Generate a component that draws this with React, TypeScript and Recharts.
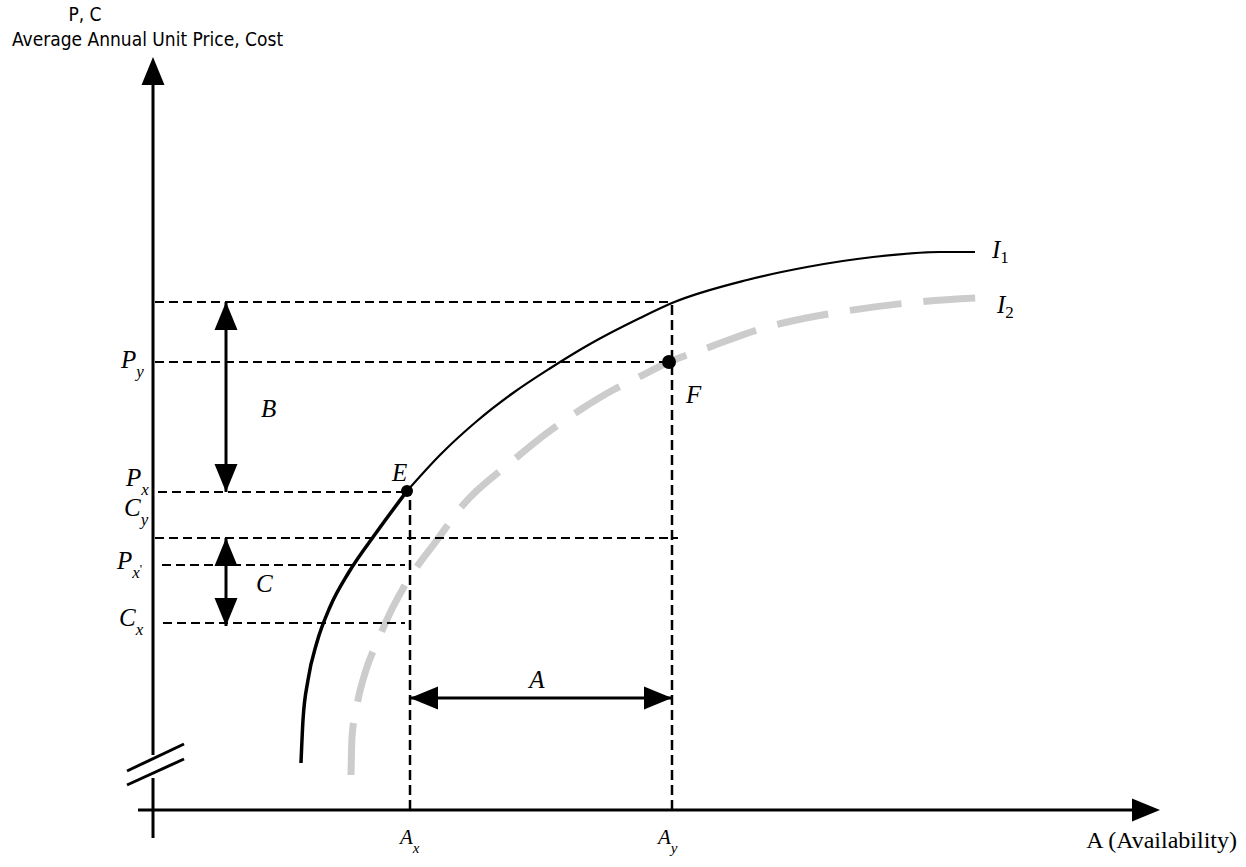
import { ComposedChart, Line, ReferenceLine, Scatter, XAxis, YAxis } from 'recharts';

// availability (a) vs average annual unit price / cost (v), arbitrary units
const A_X = 25.7;
const A_Y = 51.9;
const P_Y = 44.8;
const P_X = 31.8;
const C_Y = 27.2;
const P_XP = 24.5;
const C_X = 18.7;
const I1_AT_AY = 50.8;
const AXIS_END_A = 100.7;
const AXIS_END_V = 75.3;

const POINT_E = { a: 25.4, v: 31.9 };
const POINT_F = { a: 51.6, v: 44.8 };

// I1, lower (heavier) part up to E, then the rest
const I1_LOWER = [
  { a: 14.8, v: 4.7 },
  { a: 15.0, v: 9.0 },
  { a: 15.5, v: 13.0 },
  { a: 16.4, v: 16.8 },
  { a: 17.7, v: 20.3 },
  { a: 19.6, v: 23.8 },
  { a: 22.3, v: 27.7 },
  { a: 25.4, v: 31.9 },
];
const I1_UPPER = [
  { a: 25.4, v: 31.9 },
  { a: 28.7, v: 35.5 },
  { a: 32.4, v: 38.9 },
  { a: 36.0, v: 41.7 },
  { a: 39.6, v: 44.1 },
  { a: 43.7, v: 46.6 },
  { a: 48.7, v: 49.2 },
  { a: 51.9, v: 50.7 },
  { a: 59.4, v: 53.0 },
  { a: 65.4, v: 54.3 },
  { a: 72.0, v: 55.3 },
  { a: 78.7, v: 55.8 },
  { a: 82.2, v: 55.8 },
];
const I2_CURVE = [
  { a: 19.8, v: 3.5 },
  { a: 19.9, v: 7.3 },
  { a: 20.5, v: 11.0 },
  { a: 21.3, v: 14.0 },
  { a: 22.5, v: 17.0 },
  { a: 24.0, v: 20.3 },
  { a: 25.2, v: 22.5 },
  { a: 28.4, v: 27.0 },
  { a: 31.0, v: 30.5 },
  { a: 35.7, v: 34.7 },
  { a: 39.4, v: 37.7 },
  { a: 42.7, v: 40.0 },
  { a: 46.0, v: 42.0 },
  { a: 48.4, v: 43.2 },
  { a: 51.6, v: 44.8 },
  { a: 55.7, v: 46.3 },
  { a: 60.4, v: 48.0 },
  { a: 63.0, v: 48.7 },
  { a: 68.7, v: 49.8 },
  { a: 76.4, v: 50.8 },
  { a: 84.0, v: 51.3 },
];

// dashed guides
const GUIDES_H = [
  { v: I1_AT_AY, from: 0.2, to: A_Y },
  { v: P_Y, from: 0.2, to: POINT_F.a },
  { v: P_X, from: 0.5, to: POINT_E.a },
  { v: C_Y, from: 0.2, to: 52.5 },
  { v: P_XP, from: 0.9, to: 25.2 },
  { v: C_X, from: 1.0, to: 25.2 },
];
const GUIDES_V = [
  { a: A_X, top: P_X },
  { a: A_Y, top: I1_AT_AY },
];

const GAP_B = { a: 7.3, hi: I1_AT_AY, lo: P_X };
const GAP_C = { a: 7.3, hi: C_Y, lo: 18.4 };
const GAP_A = { v: 11.2, left: A_X, right: A_Y };

const ARROW_HEADS = [
  { a: 0, v: AXIS_END_V, dir: 'up' },
  { a: AXIS_END_A, v: 0, dir: 'right' },
  { a: GAP_B.a, v: GAP_B.hi, dir: 'up' },
  { a: GAP_B.a, v: GAP_B.lo, dir: 'down' },
  { a: GAP_C.a, v: GAP_C.hi, dir: 'up' },
  { a: GAP_C.a, v: GAP_C.lo, dir: 'down' },
  { a: GAP_A.left, v: GAP_A.v, dir: 'left' },
  { a: GAP_A.right, v: GAP_A.v, dir: 'right' },
];

const LABELS = [
  { id: 'Py', a: 0, v: P_Y, main: 'P', sub: 'y' },
  { id: 'Px', a: 0, v: P_X, main: 'P', sub: 'x' },
  { id: 'Cy', a: 0, v: C_Y, main: 'C', sub: 'y' },
  { id: 'Pxp', a: 0, v: P_XP, main: 'P', sub: 'x', prime: true },
  { id: 'Cx', a: 0, v: C_X, main: 'C', sub: 'x' },
  { id: 'B', a: GAP_B.a, v: (GAP_B.hi + GAP_B.lo) / 2, main: 'B' },
  { id: 'C', a: GAP_C.a, v: (GAP_C.hi + GAP_C.lo) / 2, main: 'C' },
  { id: 'A', a: (A_X + A_Y) / 2, v: GAP_A.v, main: 'A' },
  { id: 'E', a: POINT_E.a, v: POINT_E.v, main: 'E' },
  { id: 'F', a: POINT_F.a, v: POINT_F.v, main: 'F' },
  { id: 'I1', a: 82.2, v: 55.8, main: 'I', sub: '1', upright: true },
  { id: 'I2', a: 84.0, v: 51.3, main: 'I', sub: '2', upright: true },
  { id: 'Ax', a: A_X, v: 0, main: 'A', sub: 'x' },
  { id: 'Ay', a: A_Y, v: 0, main: 'A', sub: 'y' },
];

const AXIS_TITLES = [
  { id: 'pc', a: 0, v: AXIS_END_V, text: 'P, C' },
  { id: 'avg', a: 0, v: AXIS_END_V, text: 'Average Annual Unit Price, Cost' },
  { id: 'avail', a: AXIS_END_A, v: 0, text: 'A (Availability)' },
];

// pixel nudges of each label from its anchor
const NUDGE: Record<string, [number, number]> = {
  Py: [-32, 6],
  Px: [-27, -6],
  Cy: [-29, -22],
  Pxp: [-36, 4],
  Cx: [-34, 3],
  B: [35, 20],
  C: [30, 10],
  A: [-4, -10],
  E: [-15, -10],
  F: [17, 41],
  I1: [17, 6],
  I2: [4, 16],
  Ax: [-10, 34],
  Ay: [-14, 34],
  pc: [-68, -36],
  avg: [-141, -11],
  avail: [77, 38],
};

const SERIF = '"Liberation Serif", "Times New Roman", serif';
const NARROW = '"DejaVu Sans Condensed", "Liberation Sans Narrow", sans-serif';

function ArrowHead(props: any) {
  const { cx, cy, payload } = props;
  const len = 28;
  const half = 11.5;
  let pts = '';
  if (payload.dir === 'up') pts = `${cx},${cy} ${cx - half},${cy + len} ${cx + half},${cy + len}`;
  if (payload.dir === 'down') pts = `${cx},${cy} ${cx - half},${cy - len} ${cx + half},${cy - len}`;
  if (payload.dir === 'left') pts = `${cx},${cy} ${cx + len},${cy - half} ${cx + len},${cy + half}`;
  if (payload.dir === 'right') pts = `${cx},${cy} ${cx - len},${cy - half} ${cx - len},${cy + half}`;
  return <polygon points={pts} fill="#000" />;
}

function Dot(props: any) {
  const big = props.payload.a > 40;
  return <circle cx={props.cx} cy={props.cy} r={big ? 7 : 6} fill="#000" />;
}

function MathLabel(props: any) {
  const { cx, cy, payload } = props;
  const n = NUDGE[payload.id] ?? [0, 0];
  const small = payload.id === 'Ax' || payload.id === 'Ay';
  return (
    <text
      x={cx + n[0]}
      y={cy + n[1]}
      fontFamily={SERIF}
      fontStyle="italic"
      fontSize={small ? 21 : 25}
      textAnchor={payload.id === 'A' ? 'middle' : 'start'}
      fill="#000"
    >
      {payload.main}
      {payload.sub && (
        <tspan
          dy={payload.upright ? 5 : 9}
          fontSize={small ? 15 : 17}
          fontStyle={payload.upright ? 'normal' : 'italic'}
        >
          {payload.sub}
        </tspan>
      )}
      {payload.prime && (
        <tspan dy={-5} fontSize={13} fontStyle="normal">
          '
        </tspan>
      )}
    </text>
  );
}

function Title(props: any) {
  const { cx, cy, payload } = props;
  const n = NUDGE[payload.id] ?? [0, 0];
  const isAvail = payload.id === 'avail';
  return (
    <text
      x={cx + n[0]}
      y={cy + n[1]}
      fontFamily={isAvail ? SERIF : NARROW}
      fontSize={isAvail ? 24 : 19}
      textAnchor={isAvail ? 'end' : payload.id === 'pc' ? 'middle' : 'start'}
      fill="#000"
    >
      {payload.text}
    </text>
  );
}

export default function App() {
  return (
    <div style={{ position: 'absolute', left: 0, top: 0, width: 1246, height: 867, background: '#fff' }}>
      <ComposedChart width={1246} height={867} margin={{ top: 0, right: 0, bottom: 0, left: 0 }}>
        <XAxis type="number" dataKey="a" domain={[-15.3, 109.3]} allowDataOverflow hide />
        <YAxis type="number" dataKey="v" domain={[-5.7, 81]} allowDataOverflow hide />

        <Line
          data={I2_CURVE}
          dataKey="v"
          type="monotone"
          stroke="#cccccc"
          strokeWidth={7}
          strokeDasharray="52 22"
          dot={false}
          isAnimationActive={false}
        />

        {GUIDES_H.map((g, i) => (
          <ReferenceLine
            key={'h' + i}
            segment={[
              { x: g.from, y: g.v },
              { x: g.to, y: g.v },
            ]}
            stroke="#000"
            strokeWidth={2}
            strokeDasharray="9 5"
          />
        ))}
        {GUIDES_V.map((g, i) => (
          <ReferenceLine
            key={'v' + i}
            segment={[
              { x: g.a, y: 0 },
              { x: g.a, y: g.top },
            ]}
            stroke="#000"
            strokeWidth={2.5}
            strokeDasharray="10 5"
          />
        ))}

        <Line
          data={I1_LOWER}
          dataKey="v"
          type="monotone"
          stroke="#000"
          strokeWidth={3.5}
          dot={false}
          isAnimationActive={false}
        />
        <Line
          data={I1_UPPER}
          dataKey="v"
          type="monotone"
          stroke="#000"
          strokeWidth={2.2}
          dot={false}
          isAnimationActive={false}
        />

        {/* axes, with the break on the vertical one */}
        <ReferenceLine segment={[{ x: 0, y: -2.8 }, { x: 0, y: 3.2 }]} stroke="#000" strokeWidth={3} />
        <ReferenceLine segment={[{ x: 0, y: 5.5 }, { x: 0, y: AXIS_END_V - 1 }]} stroke="#000" strokeWidth={3} />
        <ReferenceLine segment={[{ x: -1.5, y: 0 }, { x: AXIS_END_A - 1, y: 0 }]} stroke="#000" strokeWidth={3} />
        <ReferenceLine segment={[{ x: -2.6, y: 3.9 }, { x: 3.1, y: 6.6 }]} stroke="#000" strokeWidth={3} />
        <ReferenceLine segment={[{ x: -2.6, y: 2.5 }, { x: 3.1, y: 5.1 }]} stroke="#000" strokeWidth={3} />

        {/* gap arrows */}
        <ReferenceLine segment={[{ x: GAP_B.a, y: GAP_B.hi }, { x: GAP_B.a, y: GAP_B.lo }]} stroke="#000" strokeWidth={3} />
        <ReferenceLine segment={[{ x: GAP_C.a, y: GAP_C.hi }, { x: GAP_C.a, y: GAP_C.lo }]} stroke="#000" strokeWidth={3} />
        <ReferenceLine segment={[{ x: GAP_A.left, y: GAP_A.v }, { x: GAP_A.right, y: GAP_A.v }]} stroke="#000" strokeWidth={3} />

        <Scatter data={ARROW_HEADS} shape={ArrowHead} isAnimationActive={false} />
        <Scatter data={[POINT_E, POINT_F]} shape={Dot} isAnimationActive={false} />
        <Scatter data={LABELS} shape={MathLabel} isAnimationActive={false} />
        <Scatter data={AXIS_TITLES} shape={Title} isAnimationActive={false} />
      </ComposedChart>
    </div>
  );
}
